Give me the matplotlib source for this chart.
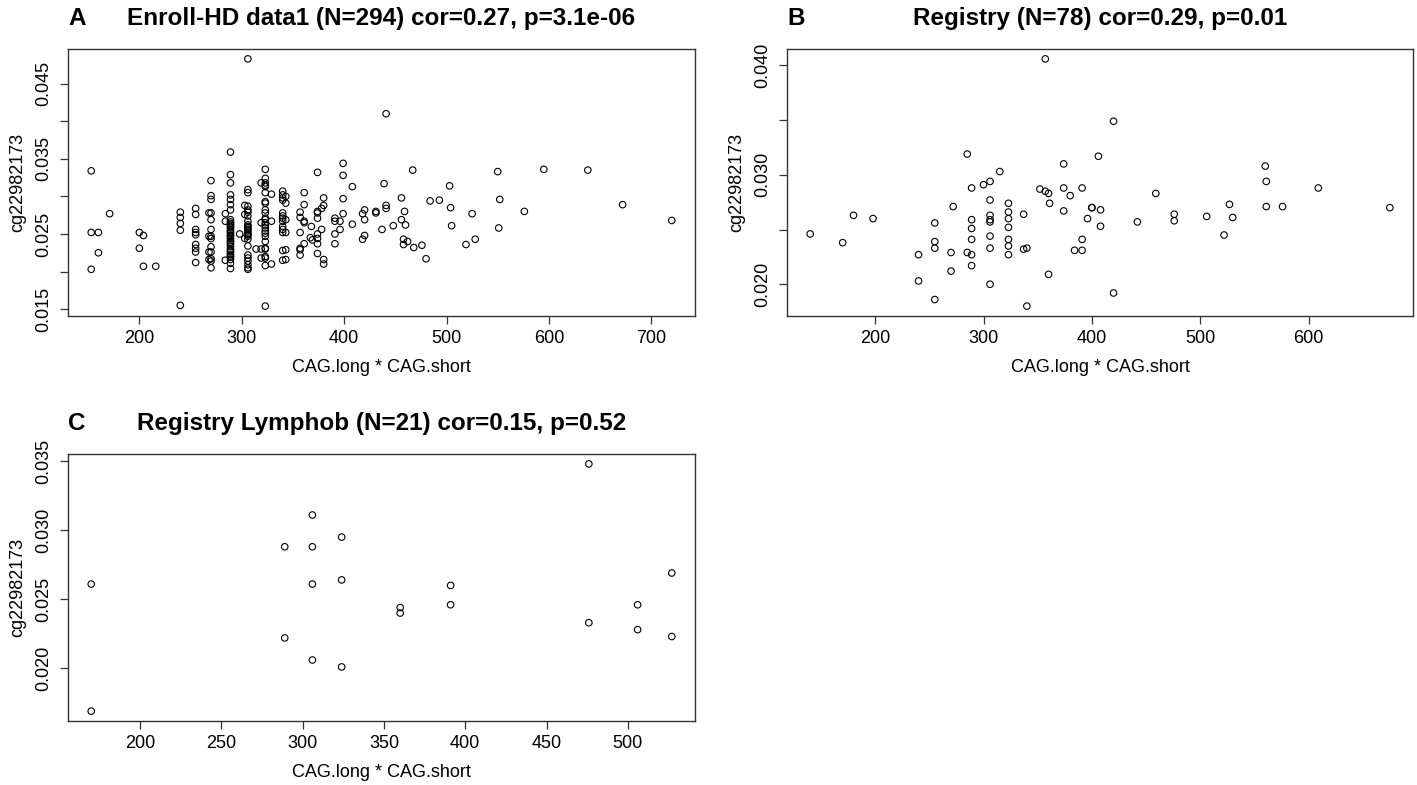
import numpy as np
import matplotlib
matplotlib.use('Agg')
import matplotlib.pyplot as plt

plt.rcParams['font.family'] = ['Liberation Sans', 'DejaVu Sans']

# panel A : Enroll-HD data1
a_x = [153, 153, 153, 160, 160, 171, 200, 200, 204, 204, 216,
       240, 240, 240, 240, 240,
       255, 255, 255, 255, 255, 255, 255, 255, 255,
       270, 270, 270, 270, 270, 270, 270, 270, 270, 270, 270, 270, 270,
       268, 268, 268, 268,
       289, 289, 289, 289, 289, 289, 289, 289, 289, 289, 289, 289, 289, 289, 289, 289,
       289, 289, 289, 289, 289, 289, 289, 289, 289, 289, 289, 289, 289, 289, 289, 289,
       284, 284, 284, 298,
       306, 306, 306, 306, 306, 306, 306, 306, 306, 306, 306, 306, 306, 306, 306, 306,
       306, 306, 306, 306, 306, 306, 306, 306,
       303, 303, 303,
       323, 323, 323, 323, 323, 323, 323, 323, 323, 323, 323, 323, 323, 323, 323, 323,
       323, 323, 323, 323, 323, 323, 323, 323, 323,
       319, 319, 319, 319, 314, 329, 329, 329,
       340, 340, 340, 340, 340, 340, 340, 340, 340, 340, 340, 340, 340,
       343, 343, 343, 343, 343, 343,
       357, 357, 357, 357, 357, 357,
       361, 361, 361, 361, 361, 368, 367, 369,
       374, 374, 374, 374, 374, 374, 374, 374,
       380, 380, 380, 380, 378, 378,
       391, 391, 391, 391, 396, 396,
       399, 399, 399, 399, 408, 408,
       418, 418, 420, 420, 420,
       431, 431, 437, 439, 441, 441, 441, 448, 456, 456, 459, 460,
       458, 458, 462, 467, 468, 476, 480, 484, 493, 503, 504, 505,
       519, 525, 528, 550, 551, 552, 576, 595, 638, 672, 720]
a_y = [0.0334, 0.0252, 0.0203, 0.0252, 0.0225, 0.0277, 0.0252, 0.0231, 0.0248, 0.0207, 0.0207,
       0.0155, 0.0279, 0.0272, 0.0264, 0.0255,
       0.0284, 0.0276, 0.0256, 0.0252, 0.0249, 0.0236, 0.0231, 0.0226, 0.0212,
       0.0321, 0.0301, 0.0296, 0.0278, 0.0269, 0.0256, 0.0247, 0.0244, 0.0233, 0.0226, 0.0217, 0.0214, 0.0205,
       0.0278, 0.0247, 0.0226, 0.0216,
       0.0359, 0.0329, 0.0318, 0.0302, 0.0296, 0.0289, 0.0282, 0.0269, 0.0266, 0.0262, 0.0258, 0.0255,
       0.0251, 0.0248, 0.0244, 0.0241, 0.0237, 0.0234, 0.0230, 0.0226, 0.0223, 0.0219, 0.0216, 0.0211,
       0.0204, 0.0264, 0.0247, 0.0260, 0.0253, 0.0239, 0.0228, 0.0221,
       0.0277, 0.0267, 0.0215, 0.0250,
       0.0483, 0.0309, 0.0305, 0.0287, 0.0282, 0.0279, 0.0274, 0.0267, 0.0260, 0.0258, 0.0254, 0.0249,
       0.0247, 0.0243, 0.0234, 0.0222, 0.0218, 0.0214, 0.0209, 0.0205, 0.0203, 0.0262, 0.0256, 0.0251,
       0.0288, 0.0276, 0.0244,
       0.0336, 0.0324, 0.0318, 0.0315, 0.0313, 0.0305, 0.0293, 0.0291, 0.0282, 0.0278, 0.0271, 0.0269,
       0.0265, 0.0254, 0.0251, 0.0247, 0.0231, 0.0230, 0.0220, 0.0218, 0.0208, 0.0154, 0.0262, 0.0258, 0.0240,
       0.0318, 0.0265, 0.0230, 0.0218, 0.0230, 0.0303, 0.0267, 0.0210,
       0.0307, 0.0302, 0.0298, 0.0295, 0.0278, 0.0274, 0.0271, 0.0267, 0.0260, 0.0256, 0.0252, 0.0228, 0.0215,
       0.0300, 0.0291, 0.0269, 0.0252, 0.0229, 0.0216,
       0.0279, 0.0272, 0.0252, 0.0231, 0.0229, 0.0222,
       0.0305, 0.0289, 0.0267, 0.0265, 0.0237, 0.0260, 0.0245, 0.0242,
       0.0332, 0.0280, 0.0278, 0.0271, 0.0250, 0.0244, 0.0237, 0.0224,
       0.0298, 0.0288, 0.0216, 0.0210, 0.0284, 0.0256,
       0.0271, 0.0267, 0.0250, 0.0237, 0.0267, 0.0256,
       0.0344, 0.0328, 0.0297, 0.0277, 0.0313, 0.0263,
       0.0277, 0.0243, 0.0282, 0.0269, 0.0248,
       0.0280, 0.0278, 0.0256, 0.0317, 0.0410, 0.0284, 0.0288, 0.0261, 0.0298, 0.0269, 0.0280, 0.0262,
       0.0243, 0.0236, 0.0240, 0.0335, 0.0232, 0.0235, 0.0217, 0.0294, 0.0295, 0.0314, 0.0285, 0.0261,
       0.0236, 0.0277, 0.0243, 0.0333, 0.0258, 0.0296, 0.0280, 0.0336, 0.0335, 0.0289, 0.0268]

# panel B : Registry
b_x = [140, 170, 180, 198, 240, 240, 255, 255, 255, 255, 270, 270, 272,
       285, 285, 289, 289, 289, 289, 289, 289, 300,
       306, 306, 306, 306, 306, 306, 306, 306, 315,
       323, 323, 323, 323, 323, 323, 323, 337, 337, 340, 340,
       352, 357, 360, 361, 357, 360, 374, 374, 374, 380, 384, 391, 391, 391,
       396, 400, 400, 408, 408, 406, 420, 420, 442, 459, 476, 476, 506,
       527, 530, 522, 560, 561, 561, 576, 609, 675]
b_y = [0.0246, 0.0238, 0.0263, 0.0260, 0.0227, 0.0203, 0.0256, 0.0239, 0.0233, 0.0186,
       0.0229, 0.0212, 0.0271,
       0.0319, 0.0229, 0.0288, 0.0259, 0.0251, 0.0241, 0.0227, 0.0217, 0.0291,
       0.0294, 0.0277, 0.0263, 0.0259, 0.0257, 0.0244, 0.0233, 0.0200, 0.0303,
       0.0274, 0.0266, 0.0260, 0.0252, 0.0241, 0.0235, 0.0227, 0.0264, 0.0232, 0.0233, 0.0180,
       0.0287, 0.0285, 0.0283, 0.0274, 0.0406, 0.0209, 0.0310, 0.0288, 0.0267, 0.0281, 0.0231,
       0.0231, 0.0288, 0.0241,
       0.0260, 0.0270, 0.0270, 0.0268, 0.0253, 0.0317, 0.0349, 0.0192, 0.0257, 0.0283, 0.0264,
       0.0258, 0.0262,
       0.0273, 0.0261, 0.0245, 0.0308, 0.0294, 0.0271, 0.0271, 0.0288, 0.0270]

# panel C : Registry Lymphob
c_x = [170, 170, 289, 289, 306, 306, 306, 306, 324, 324, 324,
       360, 360, 391, 391, 476, 476, 506, 506, 527, 527]
c_y = [0.0261, 0.0169, 0.0288, 0.0222, 0.0311, 0.0288, 0.0261, 0.0206, 0.0295, 0.0264, 0.0201,
       0.0244, 0.0240, 0.0260, 0.0246, 0.0348, 0.0233, 0.0246, 0.0228, 0.0269, 0.0223]

titles = ['Enroll-HD data1 (N=294) cor=0.27, p=3.1e-06',
          'Registry (N=78) cor=0.29, p=0.01',
          'Registry Lymphob (N=21) cor=0.15, p=0.52']
letters = ['A', 'B', 'C']
xticks = [[200, 300, 400, 500, 600, 700],
          [200, 300, 400, 500, 600],
          [200, 250, 300, 350, 400, 450, 500]]
yticks = [[0.015, 0.020, 0.025, 0.030, 0.035, 0.040, 0.045],
          [0.020, 0.025, 0.030, 0.035, 0.040],
          [0.020, 0.025, 0.030, 0.035]]
ylabels_shown = [[0.015, 0.025, 0.035, 0.045],
                 [0.020, 0.030, 0.040],
                 [0.020, 0.025, 0.030, 0.035]]

fig = plt.figure(figsize=(14.17, 7.85), dpi=100)
W, H = 1417.0, 785.0
boxes = [(68, 49, 695, 316), (787, 49, 1413, 316), (68, 454, 695, 721)]
data = [(a_x, a_y), (b_x, b_y), (c_x, c_y)]

for i in range(3):
    l, t, r, b = boxes[i]
    ax = fig.add_axes([l / W, 1 - b / H, (r - l) / W, (b - t) / H])
    x, y = data[i]
    x = np.array(x, dtype=float)
    y = np.array(y)
    ax.scatter(x, y, s=22, facecolors='none', edgecolors='black', linewidths=0.8)
    # R style 4% padding
    dx = (x.max() - x.min()) * 0.04
    dy = (y.max() - y.min()) * 0.04
    ax.set_xlim(x.min() - dx, x.max() + dx)
    ax.set_ylim(y.min() - dy, y.max() + dy)
    ax.set_xticks(xticks[i])
    ax.set_xticklabels([str(v) for v in xticks[i]])
    ax.set_yticks(yticks[i])
    labs = []
    for v in yticks[i]:
        if any(abs(v - s) < 1e-9 for s in ylabels_shown[i]):
            labs.append('%.3f' % v)
        else:
            labs.append('')
    ax.set_yticklabels(labs, rotation=90, va='center')
    ax.tick_params(axis='both', length=6, width=0.9, labelsize=13, color='#333333')
    ax.tick_params(axis='x', pad=4)
    ax.tick_params(axis='y', pad=5)
    for sp in ax.spines.values():
        sp.set_linewidth(1.0)
        sp.set_color('#333333')
    ax.set_xlabel('CAG.long * CAG.short', fontsize=13)
    ax.xaxis.set_label_coords(0.5, -0.16)
    ax.set_ylabel('cg22982173', fontsize=13)
    ax.yaxis.set_label_coords(-0.066, 0.5)
    ax.text(0.0, 1.115, letters[i], transform=ax.transAxes, fontsize=17.5,
            fontweight='bold', ha='left', va='center')
    ax.text(0.5, 1.115, titles[i], transform=ax.transAxes, fontsize=17.5,
            fontweight='bold', ha='center', va='center')

fig.savefig('out.png', dpi=100)
